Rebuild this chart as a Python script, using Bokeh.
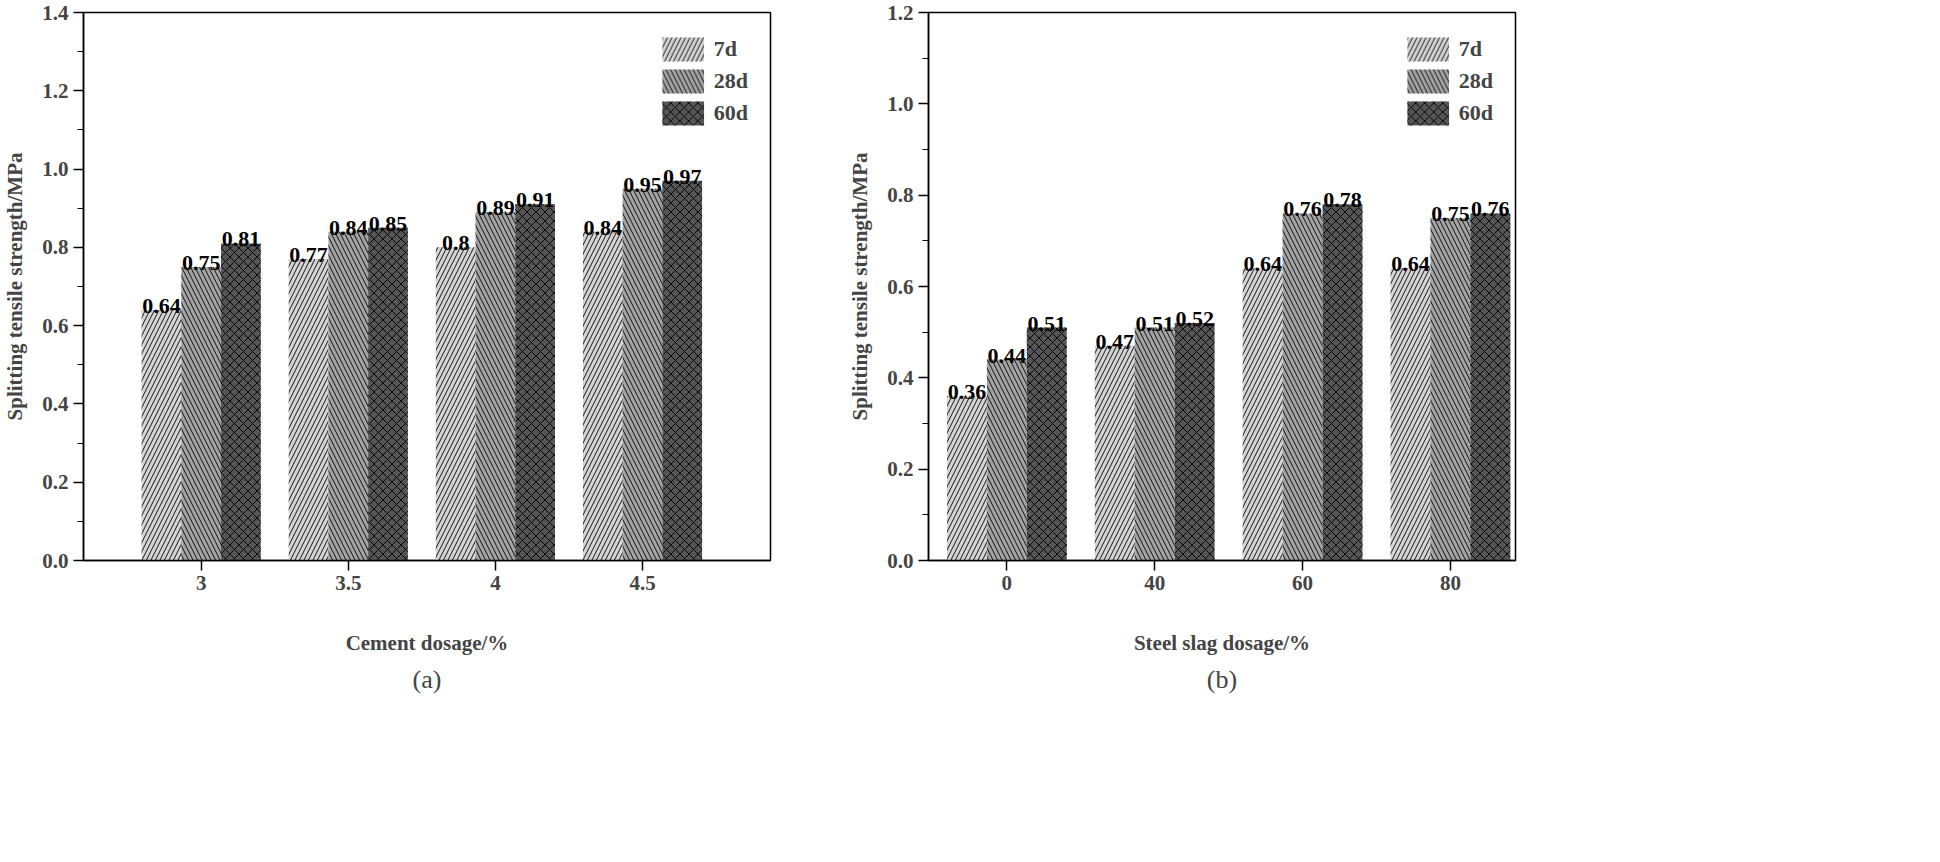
from bokeh.plotting import figure
from bokeh.layouts import row
from bokeh.models import ColumnDataSource, FixedTicker, Title, Legend, LegendItem, Range1d
from bokeh.core.properties import value
from bokeh.embed import file_html
from bokeh.resources import INLINE

series = ["7d", "28d", "60d"]
cement_cats = ["3", "3.5", "4", "4.5"]
cement_vals = {"7d": [0.64, 0.77, 0.80, 0.84], "28d": [0.75, 0.84, 0.89, 0.95], "60d": [0.81, 0.85, 0.91, 0.97]}
slag_cats = ["0", "40", "60", "80"]
slag_vals = {"7d": [0.36, 0.47, 0.64, 0.64], "28d": [0.44, 0.51, 0.76, 0.75], "60d": [0.51, 0.52, 0.78, 0.76]}

FONT = "Liberation Serif"
fills = ["#d4d4d4", "#a3a3a3", "#555555"]
hatches = ["right_diagonal_line", "left_diagonal_line", "diagonal_cross"]
W = 0.27

def fmt(v):
    return ("%.2f" % v).rstrip("0")

def make(cats, vals, xlabel, tag, ymax, xr, fw, bl, br):
    p = figure(frame_width=fw, frame_height=548, output_backend="svg", toolbar_location=None,
               x_range=Range1d(*xr), y_range=Range1d(0, ymax), min_border_left=bl, min_border_right=br,
               min_border_top=12)
    items = []
    for i, s in enumerate(series):
        xs = [j + (i - 1) * W for j in range(len(cats))]
        src = ColumnDataSource(dict(x=xs, top=vals[s], lab=[fmt(v) for v in vals[s]]))
        r1 = p.vbar(x="x", top="top", width=W, source=src, fill_color=fills[i], line_color=None)
        r2 = p.vbar(x="x", top="top", width=W, source=src, fill_alpha=0, line_color=None,
                    hatch_pattern=hatches[i], hatch_color="black", hatch_scale=9, hatch_weight=0.9)
        p.text(x="x", y="top", text="lab", source=src, text_align="center", text_baseline="bottom",
               text_font=value(FONT), text_font_style="bold", text_font_size="22px", y_offset=3)
        items.append(LegendItem(label=s, renderers=[r1, r2]))
    leg = Legend(items=items, location="top_right", glyph_width=52, glyph_height=30, spacing=2,
                 border_line_color=None, background_fill_alpha=0, label_text_font=FONT,
                 label_text_font_style="bold", label_text_font_size="22px", margin=22, padding=0)
    p.add_layout(leg, "center")
    p.xaxis.ticker = FixedTicker(ticks=list(range(len(cats))))
    p.xaxis.major_label_overrides = {j: c for j, c in enumerate(cats)}
    yt = [round(0.2 * k, 1) for k in range(int(ymax / 0.2 + 1.01))]
    p.yaxis.ticker = FixedTicker(ticks=yt,
                                 minor_ticks=[round(0.1 * k, 1) for k in range(int(ymax / 0.1 + 1.01))])
    p.yaxis.major_label_overrides = {t: "%.1f" % t for t in yt}
    p.xaxis.minor_tick_line_color = None
    for ax in (p.xaxis, p.yaxis):
        ax.major_label_text_font = FONT
        ax.major_label_text_font_style = "bold"
        ax.major_label_text_font_size = "21px"
        ax.axis_label_text_font = FONT
        ax.axis_label_text_font_style = "bold"
        ax.axis_label_text_font_size = "21px"
        ax.major_tick_in = 0
        ax.major_tick_out = 10
        ax.minor_tick_in = 0
        ax.minor_tick_out = 6
        ax.axis_line_width = 1.5
        ax.major_tick_line_width = 1.5
    p.xaxis.axis_label = xlabel
    p.xaxis.axis_label_standoff = 38
    p.yaxis.axis_label = "Splitting tensile strength/MPa"
    p.yaxis.axis_label_standoff = 12
    p.outline_line_color = "black"
    p.outline_line_width = 1.5
    p.grid.grid_line_color = None
    t = Title(text=tag, align="center", text_font=FONT, text_font_size="26px", text_font_style="normal")
    p.add_layout(t, "below")
    p.min_border_bottom = 20
    return p

p1 = make(cement_cats, cement_vals, "Cement dosage/%", "(a)", 1.4, (-0.8, 3.87), 687, 70, 75)
p2 = make(slag_cats, slag_vals, "Steel slag dosage/%", "(b)", 1.2, (-0.53, 3.44), 587, 78, 420)
p = row(p1, p2)
open("out.html", "w").write(file_html(p, INLINE))
